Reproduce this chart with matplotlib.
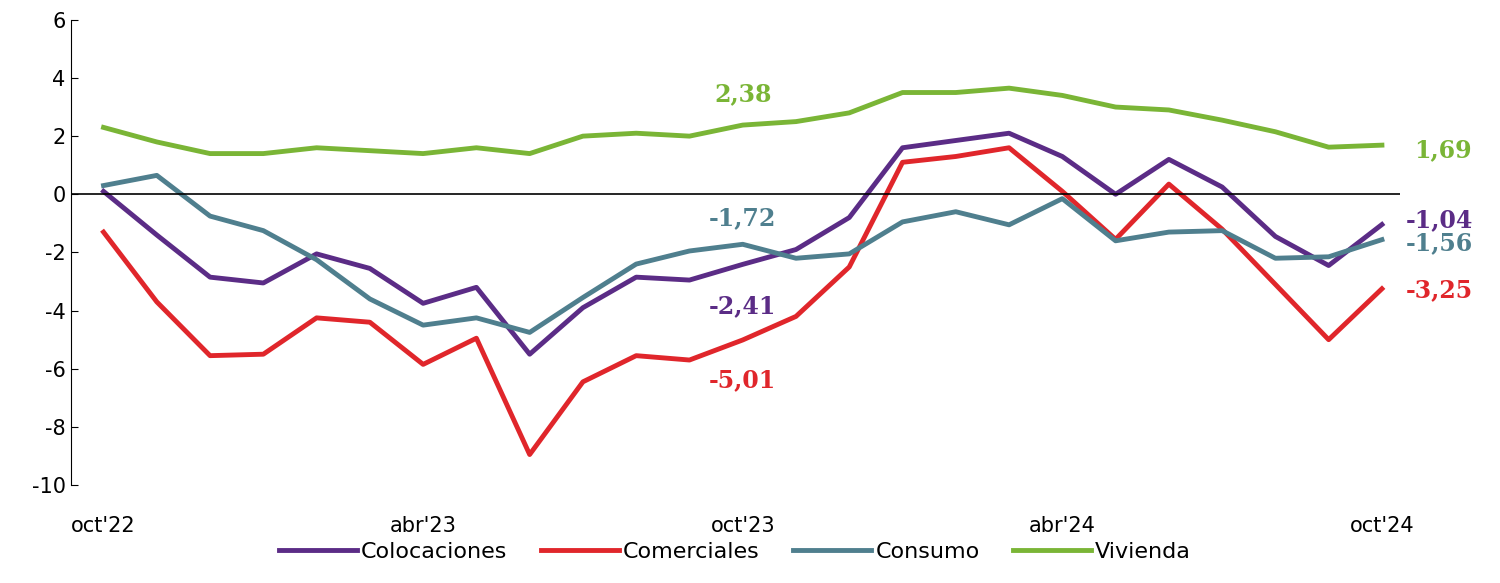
import matplotlib.pyplot as plt

plt.rcParams['axes.unicode_minus'] = False

meses = list(range(25))
tick_pos = [0, 6, 12, 18, 24]
tick_labels = ["oct'22", "abr'23", "oct'23", "abr'24", "oct'24"]

colocaciones = [0.1, -1.4, -2.85, -3.05, -2.05, -2.55, -3.75, -3.2, -5.5, -3.9, -2.85, -2.95,
                -2.41, -1.9, -0.8, 1.6, 1.85, 2.1, 1.3, 0.0, 1.2, 0.25, -1.45, -2.45, -1.04]
comerciales = [-1.3, -3.7, -5.55, -5.5, -4.25, -4.4, -5.85, -4.95, -8.95, -6.45, -5.55, -5.7,
               -5.01, -4.2, -2.5, 1.1, 1.3, 1.6, 0.1, -1.55, 0.35, -1.2, -3.1, -5.0, -3.25]
consumo = [0.3, 0.65, -0.75, -1.25, -2.25, -3.6, -4.5, -4.25, -4.75, -3.55, -2.4, -1.95,
           -1.72, -2.2, -2.05, -0.95, -0.6, -1.05, -0.15, -1.6, -1.3, -1.25, -2.2, -2.15, -1.56]
vivienda = [2.3, 1.8, 1.4, 1.4, 1.6, 1.5, 1.4, 1.6, 1.4, 2.0, 2.1, 2.0,
            2.38, 2.5, 2.8, 3.5, 3.5, 3.65, 3.4, 3.0, 2.9, 2.55, 2.15, 1.62, 1.69]

c_col, c_com, c_con, c_viv = "#5B2C86", "#E0262B", "#4F7F8E", "#7AB536"

fig = plt.figure(figsize=(15, 5.83), dpi=100)
ax = fig.add_axes([0.047, 0.168, 0.886, 0.798])
ax.plot(meses, colocaciones, color=c_col, lw=3.5, label="Colocaciones")
ax.plot(meses, comerciales, color=c_com, lw=3.5, label="Comerciales")
ax.plot(meses, consumo, color=c_con, lw=3.5, label="Consumo")
ax.plot(meses, vivienda, color=c_viv, lw=3.5, label="Vivienda")

ax.axhline(0, color="black", lw=1.2)
ax.set_xlim(-0.62, 24.33)
ax.set_ylim(-10, 6)
ax.set_yticks(range(-10, 7, 2))
ax.set_xticks(tick_pos)
ax.set_xticklabels(tick_labels)
ax.tick_params(axis="x", length=0, pad=22, labelsize=15)
ax.tick_params(axis="y", labelsize=15, direction="in", length=5)
for s in ["top", "right", "bottom"]:
    ax.spines[s].set_visible(False)

fmt = lambda v: f"{v:.2f}".replace(".", ",")
kw = dict(fontsize=17, fontweight="bold", fontfamily="DejaVu Serif")
ax.text(12, 3.2, fmt(vivienda[12]), color=c_viv, ha="center", **kw)
ax.text(12, -1.05, fmt(consumo[12]), color=c_con, ha="center", **kw)
ax.text(12, -4.1, fmt(colocaciones[12]), color=c_col, ha="center", **kw)
ax.text(12, -6.65, fmt(comerciales[12]), color=c_com, ha="center", **kw)
ax.text(24.6, vivienda[24] - 0.4, fmt(vivienda[24]), color=c_viv, **kw)
ax.text(24.45, colocaciones[24] - 0.1, fmt(colocaciones[24]), color=c_col, **kw)
ax.text(24.45, consumo[24] - 0.35, fmt(consumo[24]), color=c_con, **kw)
ax.text(24.45, comerciales[24] - 0.3, fmt(comerciales[24]), color=c_com, **kw)

ax.legend(loc="upper center", bbox_to_anchor=(0.5, -0.08), ncol=4, frameon=False,
          fontsize=16, handlelength=3.5, columnspacing=1.5, handletextpad=0.2)

fig.savefig("out.png")
